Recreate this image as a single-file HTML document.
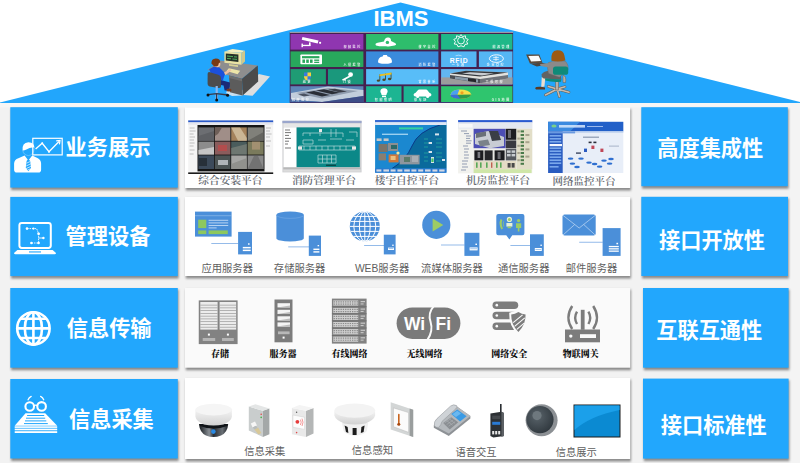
<!DOCTYPE html>
<html lang="zh-CN">
<head>
<meta charset="utf-8">
<title>IBMS</title>
<style>
html,body{margin:0;padding:0;background:#fff;}
body{width:800px;height:463px;overflow:hidden;position:relative;}
svg{display:block;position:absolute;left:0;top:0;}
.t{font-family:"Liberation Sans","Noto Sans CJK SC",sans-serif;font-weight:700;fill:#fff;font-size:21.2px;}
.lb{font-family:"Liberation Sans","Noto Sans CJK SC",sans-serif;font-size:10.3px;fill:#5e5e5e;text-anchor:middle;}
.ls{font-family:"Liberation Serif","Noto Serif CJK SC",serif;font-size:10.7px;fill:#676b72;text-anchor:middle;font-weight:600;}
.lk{font-family:"Liberation Serif","Noto Serif CJK SC",serif;font-size:9px;fill:#111;text-anchor:middle;font-weight:900;}
.tt{font-family:"Liberation Sans","Noto Sans CJK SC",sans-serif;font-size:3px;font-weight:700;fill:#fff;text-anchor:end;letter-spacing:1.6px;opacity:0.85;}
</style>
</head>
<body>
<svg width="800" height="463" viewBox="0 0 800 463">
<defs>
<filter id="sh" x="-5%" y="-5%" width="110%" height="115%"><feGaussianBlur stdDeviation="0.8"/></filter>
</defs>
<!-- background -->
<rect x="0" y="0" width="800" height="463" fill="#ffffff"/>
<rect x="0" y="102" width="800" height="361" fill="#f2f2f2"/>
<rect x="0" y="103" width="800" height="4.4" fill="#f7f6f5"/>
<rect x="790" y="103" width="10" height="360" fill="#f4f4f4"/>
<!-- roof -->
<polygon points="0,102.5 400.5,2.5 800,102 800,103 0,103" fill="#22a6fc"/>
<!-- SECTION:roof-content -->
<!-- tile panel -->
<g id="tiles">
<rect x="289.7" y="32" width="223.4" height="70.8" fill="#45204f"/>
<rect x="289.7" y="31.8" width="223.4" height="1.2" fill="#9a9aa8"/>
<rect x="290.5" y="34" width="72.9" height="15.6" fill="#8f36b0"/>
<rect x="290.5" y="51.4" width="72.9" height="15.6" fill="#28a85c"/>
<rect x="290.5" y="69.1" width="35.4" height="15.3" fill="#1f9c74"/>
<rect x="328" y="69.1" width="35.4" height="15.3" fill="#1a987c"/>
<rect x="290.5" y="86.2" width="72.9" height="15.8" fill="#5d86b8"/>
<rect x="366.1" y="34" width="72.3" height="15.6" fill="#2ebd6c"/>
<rect x="366.1" y="51.4" width="72.3" height="15.6" fill="#3a8bdc"/>
<rect x="366.1" y="69.1" width="72.3" height="15.3" fill="#58bdf8"/>
<rect x="366.1" y="86.2" width="35.4" height="15.8" fill="#1cb592"/>
<rect x="403.6" y="86.2" width="34.8" height="15.8" fill="#1cb592"/>
<rect x="441.1" y="34" width="71.4" height="15.6" fill="#1fb888"/>
<rect x="441.1" y="51.4" width="35.4" height="15.6" fill="#55b6f4"/>
<rect x="478.9" y="51.4" width="33.6" height="15.6" fill="#55b6f4"/>
<rect x="441.1" y="69.1" width="71.4" height="15.3" fill="#62b6f0"/>
<rect x="441.1" y="86.2" width="71.4" height="15.8" fill="#2fc56e"/>
<!-- machine room image tile -->
<g>
<polygon points="291,93 328,86.6 363.4,90 363.4,96 322,102 291,99.4" fill="#c2cedc"/>
<polygon points="296,93 329,88 358,91 322,98.6" fill="#8f9cae"/>
<polygon points="306,92.4 314,91 330,95 322,96.6" fill="#2a2e36"/>
<polygon points="316,90.4 324,89.2 340,92.8 332,94.2" fill="#2a2e36"/>
<polygon points="328,89.6 335,88.8 347,91.4 340,92.4" fill="#3a3e48"/>
<polygon points="298,94.6 304,93.6 310,95.4 304,96.6" fill="#4a5260"/>
<polygon points="322,102 363.4,96 363.4,102" fill="#3c4c86"/>
<polygon points="290.5,99.4 322,102 290.5,102" fill="#4a6ea8"/>
</g>
<!-- building image tile -->
<g>
<rect x="441.1" y="77.4" width="71.4" height="7" fill="#9c9c9c"/>
<polygon points="450,73.4 466,70.8 508,72.6 508,78.4 480,83.2 450,78.6" fill="#e2e2de"/>
<polygon points="450,75 480,79 480,83.2 450,78.6" fill="#4a4e54"/>
<polygon points="480,79 508,75 508,78.4 480,83.2" fill="#6e7278"/>
<polygon points="450,73.4 466,70.8 508,72.6 480,76.6" fill="#34383c"/>
<polygon points="462,73.4 470,72.2 494,73.6 482,75.4" fill="#c8ccd0"/>
<polygon points="455,76.4 478,79.6 478,82.4 455,79" fill="#8a9aa8"/>
<polygon points="468,78 476,79.2 476,82.2 468,81" fill="#24262a"/>
</g>
<!-- tile icons -->
<g fill="#fff" stroke="none">
<!-- camera -->
<g transform="translate(-7.5,0.4)"><polygon points="310,36.6 326,40 325.2,43 309.2,39.4"/>
<rect x="316.5" y="42" width="1.6" height="3.2"/><rect x="309.6" y="44.4" width="8.4" height="1.3"/><rect x="309" y="43.2" width="1.4" height="3.6"/>
<circle cx="327.6" cy="42.4" r="1.1"/></g>
<!-- keypad -->
<g transform="translate(-7.6,-0.3)"><rect x="308" y="54.8" width="21.6" height="9.8" rx="0.8"/>
<g fill="#28a85c"><rect x="309.6" y="56.4" width="17.4" height="2.2"/><rect x="310" y="59.8" width="2.6" height="3.4"/><rect x="313.8" y="59.8" width="2.6" height="3.4"/><rect x="317.6" y="59.8" width="2.6" height="3.4"/><rect x="321.8" y="59.8" width="5" height="1.4"/><rect x="321.8" y="62" width="5" height="1.3"/></g></g>
<!-- shield -->
<path d="M304,72.5 L311,72.5 L311,76.5 Q311,79.5 307.5,80.8 Q304,79.5 304,76.5 Z" fill="#3a7be0"/>
<path d="M307.5,72.5 L311,72.5 L311,76.3 L307.5,76.3 Z M304,76.3 L307.5,76.3 L307.5,80.8 Q304,79.5 304,76.3Z" fill="#f5d23a"/>
<!-- key -->
<circle cx="350.6" cy="74.6" r="2.4"/><polygon points="349.4,75.6 342,79.4 342.6,80.6 344.2,80 344.8,80.8 346,80.2 345.6,79.4 350.2,77"/>
<!-- cloud/recycle -->
<path d="M376,45.4 Q374.4,43.6 377.6,42.8 L384,41.4 Q385,37.2 388.4,37.6 Q391.2,38 391,41 L395,43 Q397.4,44.6 394.6,45.6 Q390,46.8 386,46.2 Q380,46.6 376,45.4 Z"/>
<circle cx="387.4" cy="42.4" r="1.7" fill="#2ebd6c"/>
<!-- dome lamp -->
<path d="M378,62 Q378,57 382.6,56.4 L383.4,55 L386.8,55 L387.6,56.4 Q392,57 392,62 Q392,63.8 385,63.8 Q378,63.8 378,62 Z"/>
<!-- car -->
<g transform="translate(0,1.2)"><path d="M415,95.2 Q413.4,95 413.6,93.4 Q413.8,92 415.6,91.6 L417.6,89.2 Q418.2,88.4 419.4,88.4 L426,88.4 Q427,88.4 427.6,89.2 L429.4,91.6 Q431.2,92 431.4,93.4 Q431.6,95 430,95.2 Z"/>
<circle cx="417.6" cy="95.4" r="1.5"/><circle cx="427.6" cy="95.4" r="1.5"/></g>
<!-- bulb -->
<path d="M380.4,92 Q380,88.4 384,88.2 Q388,88.4 387.6,92 Q386.6,93.6 386.4,95 L381.6,95 Q381.4,93.6 380.4,92 Z"/><rect x="382" y="95.6" width="4" height="1.6"/>
</g>
<!-- music -->
<g fill="#4a4a2a"><rect x="379.4" y="74.4" width="0.9" height="6"/><rect x="385" y="73.6" width="0.9" height="6"/><rect x="390.6" y="72.8" width="0.9" height="6"/><ellipse cx="378.4" cy="80.6" rx="1.7" ry="1.2"/><ellipse cx="384" cy="79.8" rx="1.7" ry="1.2"/><ellipse cx="389.6" cy="79" rx="1.7" ry="1.2"/></g>
<polygon points="379.4,74.4 391.5,72.6 391.5,74.4 379.4,76.2" fill="#e8c020"/>
<!-- sun/bulb energy -->
<g fill="none" stroke="#fff" stroke-width="0.9"><circle cx="461" cy="40.6" r="3.4"/><path d="M461,34.6 L462.6,36.6 L465.4,35.8 L465.6,38.4 L468.2,39.4 L466.6,41.6 L467.8,44 L465,44.4 L464,46.8 L461,45.8 L458,46.8 L457,44.4 L454.2,44 L455.4,41.6 L453.8,39.4 L456.4,38.4 L456.6,35.8 L459.4,36.6 Z"/></g>
<!-- RFID -->
<text x="459" y="62.6" text-anchor="middle" style="font-family:'Liberation Sans',sans-serif;font-weight:700;font-size:6.8px;fill:#fff;letter-spacing:0.7px;">RFID</text>
<path d="M455.6,55.8 Q458.6,54.6 461.6,55.8" fill="none" stroke="#fff" stroke-width="0.5"/>
<!-- circle icon -->
<g fill="none" stroke="#fff" stroke-width="0.9"><ellipse cx="496.4" cy="58.6" rx="7" ry="3.8"/><path d="M493.2,57.4 H498.8 M493.2,59.4 H498.8 M496,56 V61" stroke-width="0.7"/></g>
<!-- pie chart -->
<g transform="translate(-0.6,1.4)">
<path d="M451,93.6 Q452,88.4 460,88 Q470,88 472,93 Q470,97.4 461,97.4 Q452,97.4 451,93.6 Z" fill="#f4e04a"/>
<path d="M451,93.6 Q452,88.4 460,88 L458,93.4 Z" fill="#4aa0f0"/>
<path d="M451,93.6 L458,93.4 L472,93 Q470,97.4 461,97.4 Q452,97.4 451,93.6 Z" fill="#2e9a4a"/>
<path d="M451,93.6 L458,93.4 L461,97.4 Q452,97.4 451,93.6Z" fill="#3a6ed8"/>
<circle cx="462.6" cy="91.4" r="1.6" fill="#f0a020"/>
</g>
<!-- tile texts -->
<g class="tt">
<text x="361.8" y="48.4">视频监控</text>
<text x="361.8" y="65.8">入侵报警</text>
<text x="307.4" y="83.2" style="text-anchor:middle">巡更</text>
<text x="347.4" y="83.2" style="text-anchor:middle">门锁</text>
<text x="292" y="100.8" style="text-anchor:start">机房监控</text>
<text x="436.8" y="48.4">楼宇自控</text>
<text x="436.8" y="65.8">消防报警</text>
<text x="436.8" y="83.2">背景音乐</text>
<text x="384" y="100.8" style="text-anchor:middle">智能照明</text>
<text x="421" y="100.8" style="text-anchor:middle">停车场</text>
<text x="510.8" y="48.4">能源管理</text>
<text x="458.6" y="65.8" style="text-anchor:middle">一卡通</text>
<text x="496" y="65.8" style="text-anchor:middle">企业管控</text>
<text x="504" y="83.2">三维可视</text>
<text x="510.8" y="100.8">GIS地图</text>
</g>
</g>
<!-- operator (left) -->
<g id="operator">
<polygon points="258.8,74 270,76.5 252.6,95.8 243.2,95" fill="#dedede"/>
<polygon points="229,87 243,90 243,95.6 232,96 226,93" fill="#c9dff0"/>
<polygon points="220.7,60.6 257.8,65.4 242,78.8 207.5,70" fill="#8e8e8e"/>
<polygon points="257.8,65.4 258.2,81.6 242.6,95.4 242,78.8" fill="#4b4b4b"/>
<polygon points="242,78.8 242.6,95.4 230,92.2 229,75.6" fill="#5c5c5c"/>
<polygon points="229,75.6 242,78.8 242,81.2 229,78" fill="#6e6e6e"/>
<!-- monitor -->
<polygon points="224.4,51.4 232.5,49 245,50.8 241.4,52.8" fill="#f5f0c0"/>
<polygon points="241.4,52.8 245,50.8 245,61.6 241.4,64.8" fill="#cfc88c"/>
<polygon points="224.4,51.4 241.4,52.8 241.4,64.8 224.4,62.8" fill="#e9e2a4"/>
<polygon points="225.8,53.6 238.4,54.6 238.4,62 225.8,60.6" fill="#25322a"/>
<path d="M227,56 L233,56.6 M234,56.8 L237,57 M227,58.4 L231,58.8 M232.4,59 L237,59.4" stroke="#5ad06a" stroke-width="0.8" fill="none"/>
<polygon points="229,64 238,65.2 238,67 229,65.8" fill="#d8d194"/>
<!-- keyboard -->
<polygon points="228.8,68.2 240.2,70.8 237.6,74.2 226.6,71" fill="#ece5a8"/>
<!-- legs -->
<polygon points="219,79.6 230,82.6 229.6,90.4 224.6,90.4 223.6,85.6 218,84.6" fill="#1b2a78"/>
<ellipse cx="229" cy="90" rx="2.6" ry="1.6" fill="#7a3a1a"/>
<!-- body -->
<polygon points="209.2,69.2 214,66.6 219.4,67.4 225.2,73.2 222.8,80.6 212.4,77" fill="#1c50da"/>
<polygon points="224,72.6 230.4,69 231.4,70.4 225.4,75" fill="#f0c0a0"/>
<circle cx="217.2" cy="64" r="3.2" fill="#f0c0a0"/>
<path d="M211.4,63.4 Q211.2,58.6 215.8,58.4 Q220.4,58.4 220.2,62.6 Q218.6,62.4 218.2,65.6 Q215,68.4 211.4,63.4 Z" fill="#7a3a14"/>
<!-- chair back -->
<path d="M207.6,74 Q207.6,71.6 210,72.2 L219,75 Q221,75.8 221,78 L221,86 Q221,88.4 218.6,88 L209.6,86.4 Q207.6,86 207.6,84 Z" fill="#4c4c4c"/>
<!-- chair base -->
<rect x="215.6" y="86" width="2.2" height="14" fill="#8ab8f0"/>
<path d="M208,94.6 L216.6,93.6 L227.6,95" stroke="#3a3a4a" stroke-width="1.4" fill="none"/>
<path d="M216.6,93.6 L216.6,100" stroke="#3a3a4a" stroke-width="1.2" fill="none"/>
<circle cx="208" cy="95" r="1.5" fill="#111"/><circle cx="227.6" cy="95.2" r="1.5" fill="#111"/><circle cx="216.7" cy="100" r="1.5" fill="#111"/>
</g>
<!-- woman (right) -->
<g id="woman">
<!-- chair base -->
<g stroke="#6a5a4a" stroke-width="2.6" stroke-linecap="round" fill="none"><path d="M557.2,89 L545.4,95 M557.2,89 L559.4,96.6 M557.2,89 L569,92.2 M557.2,89 L548.4,86.4 M557.2,89 L565,86.8"/></g>
<g stroke="#c4bcb2" stroke-width="1.6" stroke-linecap="round" fill="none"><path d="M557.2,89 L545.4,95 M557.2,89 L559.4,96.6 M557.2,89 L569,92.2 M557.2,89 L548.4,86.4 M557.2,89 L565,86.8"/></g>
<rect x="555.6" y="80" width="3" height="10" fill="#b8b0a6" stroke="#6a5a4a" stroke-width="0.5"/>
<path d="M563,75 Q566.6,76 565.6,82.6 L563,82.6 Z" fill="#b8b0a6" stroke="#6a5a4a" stroke-width="0.5"/>
<!-- laptop -->
<polygon points="529.9,63.4 542.4,62.8 548,64.6 536.8,66.6" fill="#4a4440"/>
<polygon points="526.1,54.6 539.3,54.4 542.4,62.8 529.9,63.4" fill="#5a4a3c"/>
<polygon points="528.4,55.9 538.6,55.7 541,60.9 531.1,61.5" fill="#fafafa"/>
<!-- leg & shoe -->
<polygon points="541.8,77 545.4,77.6 544.4,86.6 541.2,87" fill="#ecdccc"/>
<path d="M535,88 Q536,86.4 541,86.8 L545,87.4 L545,89.4 L536,89.6 Z" fill="#5a3a24"/>
<!-- skirt -->
<path d="M541.6,74.6 Q543,71.6 549,70.6 L560.6,72.6 L561.4,79.8 L543.6,78.4 Q541,77 541.6,74.6 Z" fill="#626262"/>
<!-- seat -->
<path d="M545,78.4 L561.4,79.4 L561,81.8 Q552,82.6 545.4,80.6 Z" fill="#0f8a78"/>
<!-- torso -->
<path d="M548.4,62.6 Q556,59.4 565.8,61.6 Q569,65 568,70 L559.4,77.2 L548.6,73.4 Q546.6,68 548.4,62.6 Z" fill="#8a8a8a" stroke="#6a6a6a" stroke-width="0.4"/>
<polygon points="549.4,63 540,64 540.6,66 549,67.4" fill="#8c8c8c"/>
<!-- chair back -->
<rect x="553" y="66.4" width="15.2" height="8.4" rx="2.6" fill="#0f8a78"/>
<!-- hair -->
<path d="M551.4,60.8 Q550.4,50.6 557,50.2 Q563.6,50 564.4,55.4 L565.4,60.6 Q558,62.4 551.4,60.8 Z" fill="#9c5a14"/>
</g>

<text x="401" y="26" text-anchor="middle" style="font-family:'Liberation Sans',sans-serif;font-weight:700;font-size:22px;fill:#fff;">IBMS</text>
<!-- shadows -->
<g fill="#808080" filter="url(#sh)" opacity="0.9">
<rect x="11.1" y="108.8" width="167.5" height="81.3"/><rect x="11.1" y="198.5" width="167.5" height="80.1"/><rect x="11.1" y="289.6" width="167.5" height="80.6"/><rect x="11.1" y="380.6" width="167.5" height="80.4"/>
<rect x="185.8" y="109.0" width="445.2" height="81.5"/><rect x="185.8" y="198.6" width="445.2" height="79.9"/><rect x="185.8" y="289.6" width="445.2" height="80.6"/><rect x="185.8" y="379.6" width="445.2" height="81.9"/>
<rect x="642.1" y="108.8" width="146.5" height="79.9"/><rect x="642.1" y="198.4" width="146.7" height="80.1"/><rect x="643.8" y="289.6" width="145.6" height="80.6"/><rect x="643.8" y="380.2" width="145.6" height="80.9"/>
</g>
<!-- left boxes -->
<g fill="#22a7fd">
<rect x="10.3" y="107.2" width="167.5" height="80.4"/>
<rect x="10.3" y="196.9" width="167.5" height="79.2"/>
<rect x="10.3" y="288" width="167.5" height="79.7"/>
<rect x="10.3" y="379" width="167.5" height="79.5"/>
<rect x="641.3" y="107.2" width="146.5" height="79"/>
<rect x="641.3" y="196.8" width="146.7" height="79.2"/>
<rect x="643" y="288" width="145.6" height="79.7"/>
<rect x="643" y="378.6" width="145.6" height="80"/>
</g>
<!-- panels -->
<g fill="#ffffff">
<rect x="185" y="107.4" width="445.2" height="80.6"/>
<rect x="185" y="197" width="445.2" height="79"/>
<rect x="185" y="288" width="445.2" height="79.7" fill="#fafafa"/>
<rect x="185" y="378" width="445.2" height="81"/>
</g>
<!-- left titles -->
<text class="t" x="65.6" y="155.4">业务展示</text>
<text class="t" x="65.6" y="243.6">管理设备</text>
<text class="t" x="66.8" y="335.6">信息传输</text>
<text class="t" x="69" y="427.4">信息采集</text>
<!-- right titles -->
<text class="t" x="657.3" y="155.7">高度集成性</text>
<text class="t" x="659" y="248">接口开放性</text>
<text class="t" x="656.3" y="338">互联互通性</text>
<text class="t" x="660.8" y="433">接口标准性</text>
<!-- SECTION:left-icons -->
<!-- icon 1: presenter -->
<g id="ic1">
<g transform="translate(0.4,0.7)"><rect x="32.4" y="137.6" width="29.4" height="16.6" fill="none" stroke="#fff" stroke-width="1.2"/>
<path d="M35.2,148.4 L41.8,142.6 L48.6,151 L58.6,140.8" fill="none" stroke="#fff" stroke-width="1.3"/>
<path d="M55.8,140.2 L59.6,139.8 L59,143.6" fill="none" stroke="#fff" stroke-width="1.2"/>
<circle cx="41.8" cy="142.6" r="1" fill="#fff"/><circle cx="48.6" cy="151" r="1" fill="#fff"/></g>
<path d="M22.6,150.4 Q21.8,142.6 28.4,142.2 Q35,142.4 34.4,149 L33.8,147.2 Q29,147.4 26.4,149.4 Q24,150.6 22.6,150.4 Z" fill="#fff"/>
<path d="M22.8,150.6 Q23.4,155 28.4,155.6 Q33.4,155 34.2,149" fill="none" stroke="#fff" stroke-width="0.5" opacity="0.55"/>
<path d="M14.1,169.8 L14.1,163.4 Q14.3,159.6 18.4,158.2 L24.6,155.6 L28.4,160.4 L32.2,155.6 L37.4,158 Q41,159.6 41.1,163.4 L41.1,169.8 Q41.1,172.6 38.3,172.6 L16.9,172.6 Q14.1,172.6 14.1,169.8 Z" fill="#fff"/>
<path d="M28.4,158.8 L30.2,161 L31,168 L28.4,171.2 L25.8,168 L26.6,161 Z" fill="#22a7fd"/>
<path d="M26.6,163.2 L30.4,161.4 M26.2,166 L30.8,163.8 M26,168.6 L30.9,166.4 M27.4,170.2 L30.4,168.8" stroke="#fff" stroke-width="0.7" fill="none"/>
</g>
<!-- icon 2: laptop -->
<g id="ic2">
<rect x="19.4" y="222.9" width="31.4" height="25" rx="2.4" fill="none" stroke="#fff" stroke-width="2"/>
<path d="M17.4,250 L52.6,250 L56,253 Q56,254.2 54.6,254.2 L15.4,254.2 Q14,254.2 14,253 Z" fill="#fff"/>
<rect x="29" y="251.4" width="12" height="1.1" fill="#22a6fc"/>
<g stroke="#fff" stroke-width="0.9" fill="none" stroke-dasharray="1.6,0.9"><path d="M27,228.6 L36.6,228.6 L38.6,233.6 L38.6,243 L31.6,243"/></g>
<g fill="#fff"><circle cx="27" cy="228.6" r="1.3"/><circle cx="33.4" cy="228.6" r="1.1"/><circle cx="38.6" cy="233.8" r="1.4"/><circle cx="43.4" cy="238" r="1.2"/><circle cx="38.6" cy="243" r="1.3"/><circle cx="31.4" cy="243" r="1.3"/></g>
<path d="M38.6,238 H43.4" stroke="#fff" stroke-width="0.9"/>
</g>
<!-- icon 3: globe -->
<g id="ic3" fill="none" stroke="#fff" stroke-width="2.6">
<circle cx="33.4" cy="328.4" r="16.2"/>
<ellipse cx="33.4" cy="328.4" rx="8.6" ry="16.2"/>
<path d="M33.4,312.2 V344.6 M17.2,328.4 H49.6 M20.6,318.8 H46.2 M20.6,338 H46.2"/>
</g>
<!-- icon 4: glasses on books -->
<g id="ic4">
<g fill="none" stroke="#fff" stroke-width="2.1"><circle cx="29.7" cy="406.5" r="4.3"/><circle cx="41.6" cy="406.4" r="4.3"/></g>
<path d="M34,405.6 Q35.6,404.6 37.3,405.6" fill="none" stroke="#fff" stroke-width="1.4"/>
<g fill="none" stroke="#fff" stroke-width="1.3" stroke-linecap="round"><path d="M28.1,399.8 Q29,397.4 31.2,396.4 M43.7,399.8 Q42.8,397.4 40.6,396.4"/></g>
<polygon points="25.5,413.3 45.2,413.3 57.2,425.8 14.7,425.8" fill="#fff"/>
<g stroke="#22a7fd" stroke-width="1"><path d="M27.1,415.5 H44.2 M26,418.2 H45.2 M25,420.9 H46.3 M24,423.6 H47.8"/></g>
<g fill="#fff"><rect x="14.7" y="426.3" width="42.5" height="1.6"/><rect x="14.7" y="428.6" width="42.5" height="1.7"/><rect x="14.7" y="431.2" width="42.5" height="1.8"/></g>
</g>

<!-- SECTION:row1 -->
<!-- screenshot 1: video wall -->
<g id="s1">
<rect x="188.2" y="120.4" width="85" height="53.6" fill="#f4f4f4"/>
<rect x="188.2" y="120.4" width="85" height="2" fill="#2a5ac8"/>
<rect x="188.2" y="122.4" width="85" height="2.3" fill="#e4e6ee"/>
<rect x="188.2" y="172.4" width="85" height="1.6" fill="#1a1a1a"/>
<rect x="197.5" y="125" width="67" height="46.4" fill="#141414"/>
<g stroke="#9a9a9a" stroke-width="0.6"><path d="M189.6,128 h5 M189.6,131 h6 M189.6,134 h4 M189.6,137 h5.4 M189.6,140 h4.4 M189.6,143 h5 M189.6,146 h4 M189.6,150 h5 M189.6,154 h4 M266,128 h5 M266,131 h4 M266,134 h5.6 M266,137 h4 M266,141 h5 M266,146 h4"/></g>
<rect x="198.4" y="127.4" width="15.6" height="13.4" fill="#6c6e72"/><rect x="214.8" y="127.4" width="15.6" height="13.4" fill="#a08e88"/><rect x="231.2" y="127.4" width="15.6" height="13.4" fill="#a4825c"/><rect x="247.6" y="127.4" width="16" height="13.4" fill="#80807a"/>
<rect x="198.4" y="141.6" width="15.6" height="13" fill="#8c8c8c"/><rect x="214.8" y="141.6" width="15.6" height="13" fill="#8a5c5c"/><rect x="231.2" y="141.6" width="15.6" height="13" fill="#4a5c5c"/><rect x="247.6" y="141.6" width="16" height="13" fill="#7a7a5c"/>
<rect x="198.4" y="155.4" width="15.6" height="13.6" fill="#3c4a5a"/><rect x="214.8" y="155.4" width="15.6" height="13.6" fill="#4c5454"/><rect x="231.2" y="155.4" width="15.6" height="13.6" fill="#a6a6a4"/><rect x="247.6" y="155.4" width="16" height="13.6" fill="#8a8a8a"/>
<g opacity="0.75"><polygon points="198.4,136 214,131 214,140.8 198.4,140.8" fill="#5a5c60"/><polygon points="214.8,127.4 222,127.4 218,134 214.8,136" fill="#5e5048"/><polygon points="231.2,127.4 240,127.4 246.8,138 246.8,140.8 238,140.8" fill="#d8c8a8"/><polygon points="247.6,140.8 263.6,132 263.6,140.8" fill="#5c5c58"/>
<rect x="218" y="145" width="9" height="6" fill="#c04848"/><polygon points="231.2,148 246.8,144 246.8,154.6 231.2,154.6" fill="#7a8078"/><rect x="252" y="141.6" width="8" height="8" fill="#b09878"/><polygon points="198.4,150 214,147 214,154.6 198.4,154.6" fill="#d8d8d8"/>
<rect x="199" y="158" width="8" height="8" fill="#20282e"/><rect x="218" y="160" width="10" height="5" fill="#d0d4d8"/><polygon points="231.2,164 246.8,158 246.8,169 231.2,169" fill="#8a8a86"/><polygon points="247.6,169 254,156 258,156 263.6,169" fill="#6a6a6a"/></g>
</g>
<text class="ls" x="230.4" y="184">综合安装平台</text>
<!-- screenshot 2: fire -->
<g id="s2">
<rect x="282.4" y="120.8" width="79.2" height="51.6" fill="#cfd0d2"/>
<rect x="282.4" y="120.8" width="79.2" height="2.4" fill="#9aa6cc"/>
<rect x="283.4" y="123.4" width="77" height="3.8" fill="#e6e6e6"/>
<rect x="283.6" y="127.4" width="13" height="39.6" fill="#ffffff"/>
<rect x="296.6" y="127.4" width="63.2" height="39.8" fill="#0b8888"/>
<g stroke="#3a3a3a" stroke-width="0.7"><path d="M285,130 h5 M285,132.6 h6 M285,135.4 h4 M285,138.4 h6 M285,141.2 h4 M285,144 h3 M285,148 h6"/></g>
<g stroke="#b4dada" stroke-width="0.7" fill="none"><path d="M303,133 h40 M303,133 v3 M310,133 v3 M320,130 v6 M331,129 v8 M336,129 v8 M343,133 v4 M349,132 h8 v5 M303,140 h10 v4 h-10 z M318,140 h8 M330,139 h12 M346,140 h8 M299,146 h56 M299,150 h56 M304,146 v4 M310,146 v4 M316,146 v4 M322,146 v4 M328,146 v4 M334,146 v4 M340,146 v4 M346,146 v4 M318,155 h18 v8 h-18 z M318,159 h18 M322.5,155 v8 M327,155 v8 M331.5,155 v8"/></g>
<rect x="298" y="146.4" width="4" height="3.2" fill="#e8e8e8"/><rect x="352" y="146.4" width="4" height="3.2" fill="#e8e8e8"/><rect x="319" y="129" width="3" height="3" fill="#e8e8e8"/>
<rect x="326" y="164.6" width="10" height="1.4" fill="#084848"/>
<rect x="283.4" y="167.6" width="77" height="1.6" fill="#b8b8b8"/><rect x="283.4" y="169.8" width="77" height="1.8" fill="#dcdcdc"/>
</g>
<text class="ls" x="324" y="184">消防管理平台</text>
<!-- screenshot 3: BA -->
<g id="s3">
<rect x="375.1" y="120.1" width="71.3" height="52.6" fill="#1b88d0"/>
<path d="M446.4,125 L446.4,168.6 L392,168.6 Q406,160 412,146 Q418,131 440,125 Z" fill="#0a6a9c"/>
<path d="M392,168.6 Q406,160 412,146 Q418,131 440,125" fill="none" stroke="#0a3a8a" stroke-width="1"/>
<rect x="375.1" y="120.1" width="71.3" height="2" fill="#3a6ad2"/>
<rect x="375.1" y="122.1" width="71.3" height="2.9" fill="#dfe6f4"/>
<rect x="375.1" y="168.4" width="71.3" height="4.3" fill="#2a78d0"/>
<g fill="#d0d8e4"><rect x="376.4" y="169.4" width="5" height="2.2"/><rect x="383.4" y="169.4" width="5.6" height="2.2"/><rect x="390.6" y="169.4" width="5" height="2.2"/><rect x="397.4" y="169.4" width="5" height="2.2"/><rect x="404.2" y="169.4" width="5.6" height="2.2"/><rect x="411.4" y="169.4" width="5" height="2.2"/><rect x="418.2" y="169.4" width="5" height="2.2"/><rect x="425" y="169.4" width="5.6" height="2.2"/><rect x="432.4" y="169.4" width="5" height="2.2"/><rect x="439.2" y="169.4" width="5.4" height="2.2"/></g>
<rect x="399" y="127.4" width="24" height="2" fill="#38d0a0"/>
<rect x="382" y="133.6" width="26" height="1.4" fill="#9ad0f0"/>
<rect x="376.6" y="138.4" width="5" height="2.6" fill="#c8c8c8"/><rect x="383.6" y="138.4" width="5" height="2.6" fill="#c8c8c8"/>
<rect x="378.6" y="144" width="9" height="8" fill="#7a746a"/><rect x="388" y="143" width="10" height="8" fill="#8a8e92"/><rect x="391" y="145" width="6" height="4" fill="#2a6a6a"/>
<rect x="378.6" y="153.4" width="7.4" height="7" fill="#8a7e70"/><rect x="388.6" y="154.4" width="10" height="8" fill="#d0783a"/><rect x="390.6" y="156" width="5" height="4" fill="#e8c080"/>
<rect x="399.6" y="154.8" width="20" height="9.6" fill="#8e969e"/><rect x="404" y="157" width="6" height="5" fill="#5a7a6a"/><rect x="412" y="156" width="6" height="6" fill="#a8aeb4"/>
<circle cx="398" cy="153" r="1.6" fill="#f0e8a0"/>
<g fill="#d8e4ec"><rect x="435" y="133.4" width="4" height="2"/><rect x="428.6" y="142" width="3.4" height="2"/><rect x="428.6" y="151" width="3.4" height="2"/><rect x="431" y="157" width="3" height="6"/><rect x="442" y="159" width="3" height="2"/></g>
<g stroke="#2ab0a0" stroke-width="0.7"><path d="M424,139 h4 M424,143 h4 M424,147 h4 M436,139 h6 M436,143 h6 M436,147 h6 M424,153 h4 M436,153 h6 M424,157 h4 M436,157 h6 M424,161 h4 M436,161 h5"/></g>
<rect x="431.4" y="158.4" width="2.2" height="3.6" fill="#40c060"/>
</g>
<text class="ls" x="406.8" y="184">楼宇自控平台</text>
<!-- screenshot 4: machine room -->
<g id="s4">
<rect x="458.1" y="120.1" width="74.2" height="53.3" fill="#f2f2ee"/>
<rect x="458.1" y="120.1" width="74.2" height="2.3" fill="#2a5ad0"/>
<rect x="458.1" y="122.4" width="74.2" height="6.2" fill="#e4e8f0"/>
<rect x="458.6" y="124" width="14" height="3.6" fill="#f8f8f8"/>
<g stroke="#6a7a9a" stroke-width="0.7"><path d="M461,131 h6 M464,133.6 h5 M466,136 h5 M466,138.4 h4 M466,140.8 h5.6 M466,143.2 h5 M463,146 h5 M464,149 h5 M464,152 h4 M464,155 h5 M464,158 h4.6 M462,161 h6 M462,164 h5 M462,167 h6 M461,170 h5"/></g>
<rect x="473.6" y="128.8" width="32" height="19.4" fill="#4c4eb4"/>
<polygon points="475,134 488,131 504,137 504,146 490,148.2 475,144" fill="#c8ccd4"/>
<polygon points="476,133 486,131.4 486,136 476,138" fill="#6a7078"/><polygon points="489,131 498,131 501,140 492,141" fill="#3a3e46"/><polygon points="478,141 488,139.6 490,145 480,146.4" fill="#7a828a"/>
<rect x="473.6" y="149.8" width="32" height="11" fill="#e8e8e4"/>
<rect x="474.4" y="150.4" width="9" height="10" fill="#1c1c20"/><rect x="484.6" y="150.4" width="8" height="10" fill="#26262a"/><rect x="494.6" y="150.4" width="10" height="10" fill="#1c1c20"/>
<rect x="477.6" y="152" width="2.6" height="6" fill="#7a7a80"/><rect x="497.6" y="152" width="3" height="7" fill="#6a6a70"/>
<rect x="473.6" y="160.8" width="42.6" height="8.4" fill="#e4dcc6"/>
<g fill="#58a858"><rect x="476" y="162.4" width="1.6" height="5.4"/><rect x="480" y="162.4" width="1.6" height="5.4"/><rect x="486" y="162.4" width="1.6" height="5.4"/><rect x="496" y="162.4" width="1.6" height="5.4"/><rect x="500" y="162.4" width="1.6" height="5.4"/></g>
<g fill="#c06050"><rect x="491" y="162.4" width="1.4" height="5.4"/></g>
<rect x="507.6" y="163" width="3" height="4.6" fill="#4a4a4a"/><rect x="511.6" y="163" width="3" height="4.6" fill="#4a4a4a"/>
<rect x="473.6" y="169.2" width="58" height="3.8" fill="#cfe6a8"/>
<rect x="505.8" y="128.8" width="10.6" height="11" fill="#1e1e22"/><rect x="505.8" y="140.4" width="10.6" height="8" fill="#3a3a40"/><rect x="505.8" y="149" width="10.6" height="11.4" fill="#55585e"/>
<rect x="508" y="130" width="3" height="8" fill="#6a6a70"/><g fill="#c8ccd0"><rect x="507" y="150.4" width="3.6" height="2.4"/><rect x="511.6" y="150.4" width="3.6" height="2.4"/><rect x="507" y="154" width="3.6" height="2.4"/><rect x="511.6" y="154" width="3.6" height="2.4"/></g>
<rect x="516.6" y="128.8" width="15.6" height="40.4" fill="#e2dec8"/>
<g fill="#4a7a4a"><rect x="520.6" y="130.4" width="3.4" height="2"/><rect x="520.6" y="134" width="3.4" height="2"/><rect x="520.6" y="137.6" width="3.4" height="2"/><rect x="520.6" y="141.2" width="3.4" height="2"/><rect x="520.6" y="144.8" width="3.4" height="2"/><rect x="520.6" y="148.4" width="3.4" height="2"/><rect x="520.6" y="152" width="3.4" height="2"/><rect x="520.6" y="155.6" width="3.4" height="2"/><rect x="520.6" y="159.2" width="3.4" height="2"/><rect x="520.6" y="162.8" width="3.4" height="2"/></g>
<g fill="#a8a48e"><rect x="517.4" y="130.4" width="2.4" height="2"/><rect x="517.4" y="137.6" width="2.4" height="2"/><rect x="517.4" y="144.8" width="2.4" height="2"/><rect x="517.4" y="152" width="2.4" height="2"/><rect x="517.4" y="159.2" width="2.4" height="2"/><rect x="525.4" y="134" width="4" height="2"/><rect x="525.4" y="141.2" width="4" height="2"/><rect x="525.4" y="148.4" width="4" height="2"/><rect x="525.4" y="155.6" width="4" height="2"/></g>
</g>
<text class="ls" x="498" y="184">机房监控平台</text>
<!-- screenshot 5: network -->
<g id="s5">
<rect x="548.1" y="121.8" width="75.2" height="51.2" fill="#e8eef8"/>
<rect x="548.1" y="121.8" width="75.2" height="9.6" fill="#2260c8"/>
<polygon points="548.1,121.8 580,121.8 570,131.4 548.1,131.4" fill="#3a8ae0"/>
<rect x="559" y="125" width="26" height="2.6" fill="#d8e8fc" opacity="0.85"/><rect x="587" y="126" width="16" height="1" fill="#9ab8ec"/>
<ellipse cx="554" cy="126" rx="2.6" ry="1.6" fill="#7ad08a"/>
<rect x="548.1" y="131.4" width="14.6" height="41.6" fill="#2a5cc0"/>
<rect x="562.7" y="131.4" width="60.6" height="1.6" fill="#c8d8f0"/>
<rect x="548.1" y="131.4" width="27" height="2" fill="#6a9ae0"/>
<g fill="#7aa8ec"><rect x="549.6" y="135" width="11.6" height="1.6"/><rect x="549.6" y="138" width="11.6" height="1.6"/><rect x="549.6" y="141" width="11.6" height="1.6"/><rect x="549.6" y="147.4" width="11.6" height="1.6"/><rect x="549.6" y="150.4" width="11.6" height="1.6"/><rect x="549.6" y="153.4" width="11.6" height="1.6"/><rect x="549.6" y="156.4" width="11.6" height="1.6"/><rect x="549.6" y="159.4" width="11.6" height="1.6"/><rect x="549.6" y="162.4" width="11.6" height="1.6"/><rect x="549.6" y="166" width="9" height="1.6"/></g>
<rect x="549.6" y="144" width="12.4" height="2.2" fill="#f4f8ff"/>
<rect x="583" y="136.6" width="16" height="1.2" fill="#8a98b0"/><rect x="609" y="145.6" width="10" height="1" fill="#a8b4c8"/>
<rect x="588.6" y="141.6" width="3" height="1.6" fill="#2a2e3a"/><rect x="593.4" y="141.6" width="3" height="1.6" fill="#2a2e3a"/>
<rect x="591.4" y="145.6" width="3" height="3.4" fill="#c04858"/><rect x="600.4" y="148.6" width="3" height="3.4" fill="#c04858"/><rect x="584" y="148.6" width="3" height="3.4" fill="#2a5ac0"/>
<rect x="576" y="152.4" width="5" height="1.4" fill="#3a4660"/>
<g fill="#2f6fd0"><ellipse cx="570.6" cy="158.6" rx="2.8" ry="1.2"/><ellipse cx="581" cy="158.6" rx="2.8" ry="1.2"/><ellipse cx="572.4" cy="163.6" rx="2.8" ry="1.2"/><ellipse cx="577" cy="167" rx="2.8" ry="1.2"/><ellipse cx="589" cy="162.6" rx="2.8" ry="1.2"/><ellipse cx="594.6" cy="164" rx="2.8" ry="1.2"/><ellipse cx="599.6" cy="166.6" rx="2.8" ry="1.2"/><ellipse cx="604" cy="160.6" rx="2.8" ry="1.2"/><ellipse cx="611" cy="159" rx="2.8" ry="1.2"/><ellipse cx="609.6" cy="163.6" rx="2.8" ry="1.2"/></g>
</g>
<text class="ls" x="584" y="185.4" style="font-size:10.5px">网络监控平台</text>

<!-- SECTION:row2 -->
<g id="r2" fill="#4b8fd9">
<!-- app server -->
<rect x="195" y="211.6" width="36.6" height="25"/>
<rect x="195" y="215.6" width="36.6" height="0.5" fill="#a9cbf0"/>
<rect x="198.2" y="219.7" width="8.1" height="8.4" fill="#8dc85e"/>
<g fill="#b7d3f2"><rect x="208.6" y="219.8" width="19.6" height="1"/><rect x="208.6" y="222.4" width="19.6" height="1"/><rect x="208.6" y="225" width="19.6" height="1"/><rect x="208.6" y="227.4" width="8" height="1"/></g>
<rect x="198.2" y="230.4" width="8.1" height="3.7" fill="#8dc85e"/><rect x="208.6" y="230.4" width="19.2" height="3.7" fill="#8dc85e"/>
<rect x="211.3" y="243.1" width="27" height="0.8" fill="#7aaae4"/>
<rect x="238.1" y="231.9" width="13.9" height="22.5"/>
<rect x="248" y="243.3" width="1.6" height="1.4" fill="#fff"/><rect x="242.8" y="246.9" width="7.9" height="1.5" fill="#fff"/><rect x="242.8" y="249.6" width="7.9" height="1.5" fill="#fff"/>
<!-- storage -->
<path d="M276.4,215 L276.4,238.2 A13.7,3.4 0 0 0 303.8,238.2 L303.8,215 Z"/>
<ellipse cx="290.1" cy="215" rx="13.7" ry="3.4"/>
<path d="M276.4,215 A13.7,3.4 0 0 0 303.8,215" fill="none" stroke="#7fb0e8" stroke-width="0.5"/>
<rect x="288.2" y="246.5" width="21" height="0.8" fill="#7aaae4"/>
<rect x="308.8" y="235.6" width="12.2" height="20.3"/>
<rect x="317.6" y="245" width="1.5" height="1.3" fill="#fff"/><rect x="313.4" y="248.6" width="6" height="1.4" fill="#fff"/><rect x="313.4" y="251.2" width="6" height="1.4" fill="#fff"/>
<!-- web globe -->
<circle cx="364.8" cy="226.4" r="15"/>
<g fill="none" stroke="#fff" stroke-width="1"><ellipse cx="364.8" cy="226.4" rx="5.4" ry="15"/><ellipse cx="364.8" cy="226.4" rx="11" ry="15"/><path d="M364.8,211.4 V241.4 M349.8,226.4 H379.8 M350.8,221.4 H378.8 M350.8,231.4 H378.8 M353.6,216.4 H376 M353.6,236.4 H376"/></g>
<rect x="364.1" y="245.2" width="20" height="0.8" fill="#7aaae4"/>
<rect x="383.8" y="234.7" width="11.8" height="19.7"/>
<rect x="392.2" y="244.6" width="1.5" height="1.3" fill="#fff"/><rect x="388" y="247.6" width="6" height="2.4" fill="#fff"/><rect x="388.6" y="248.4" width="4.8" height="0.5" fill="#4b8fd9"/>
<!-- streaming -->
<circle cx="436.3" cy="224.9" r="14.1"/>
<polygon points="432.6,218.4 432.6,231.5 443.3,224.9" fill="#9ccc65"/>
<rect x="441" y="244.6" width="23.6" height="0.8" fill="#7aaae4"/>
<rect x="464.4" y="232.8" width="15" height="23.1"/>
<rect x="475.4" y="243.6" width="1.6" height="1.4" fill="#fff"/><rect x="469.6" y="247.4" width="8" height="3" fill="#fff"/><rect x="470.2" y="248.6" width="6.8" height="0.5" fill="#4b8fd9"/>
<!-- comm -->
<path d="M498.3,214.1 H522.4 Q524.4,214.1 524.4,216.1 V233.25 Q524.4,235.25 522.4,235.25 H512.25 L509.4,239.4 L506.25,235.25 H498.3 Q496.3,235.25 496.3,233.25 V216.1 Q496.3,214.1 498.3,214.1 Z"/>
<path d="M500.6,219 Q498.2,224 501.4,229.4 L503,228.4 Q500.8,224 502.4,220 Z" fill="#9ccc65"/>
<path d="M503.6,221.4 Q502.8,224 503.8,226.6" fill="none" stroke="#9ccc65" stroke-width="0.7"/>
<circle cx="509.4" cy="219.4" r="2.6" fill="#e8f0d8"/><circle cx="509.4" cy="219.6" r="1.5" fill="#9ccc65"/>
<path d="M506.4,223 H512.4 V226.6 H506.4 Z" fill="#e8f0d8"/><rect x="507.6" y="226.6" width="3.6" height="1.6" fill="#9ccc65"/>
<circle cx="518.6" cy="220.6" r="1.7" fill="#9ccc65"/><path d="M516,223.2 H521.2 V228 H519.4 V231.4 H517.8 V228 H516 Z" fill="#9ccc65"/>
<rect x="510.4" y="245.2" width="20" height="0.8" fill="#7aaae4"/>
<rect x="530" y="234.3" width="13.8" height="21.6"/>
<rect x="540.4" y="244.6" width="1.5" height="1.3" fill="#fff"/><rect x="534.8" y="248" width="7" height="3" fill="#fff"/><rect x="535.4" y="249.2" width="5.8" height="0.5" fill="#4b8fd9"/>
<!-- mail -->
<rect x="562.5" y="214.6" width="33.2" height="21" rx="2"/>
<path d="M563,215.4 L579.2,228 L595.2,215.4 M563,235 L574.6,224.6 M595.2,235 L583.8,224.6" fill="none" stroke="#d6e6f8" stroke-width="0.6"/>
<rect x="579.2" y="241.8" width="23.6" height="0.8" fill="#7aaae4"/>
<rect x="602.6" y="228.1" width="18" height="27.8"/>
<rect x="616.4" y="242.8" width="1.7" height="1.5" fill="#fff"/><rect x="608.8" y="245.9" width="10" height="1.3" fill="#fff"/><rect x="608.8" y="248.2" width="10" height="1.3" fill="#fff"/><rect x="608.8" y="250.5" width="10" height="1.3" fill="#fff"/>
</g>
<text class="lb" x="227.2" y="272">应用服务器</text>
<text class="lb" x="299.6" y="271.6">存储服务器</text>
<text class="lb" x="382.1" y="272">WEB服务器</text>
<text class="lb" x="452" y="272">流媒体服务器</text>
<text class="lb" x="523.7" y="272">通信服务器</text>
<text class="lb" x="591.5" y="272">邮件服务器</text>

<!-- SECTION:row3 -->
<g id="r3">
<!-- storage -->
<rect x="198.75" y="300.4" width="38.85" height="43.7" fill="#828282"/>
<rect x="200.3" y="302" width="17.3" height="27.6" fill="#ececec"/>
<rect x="200.3" y="304.76" width="17.3" height="0.7" fill="#9a9a9a"/>
<rect x="200.3" y="307.52" width="17.3" height="0.7" fill="#9a9a9a"/>
<rect x="200.3" y="310.28" width="17.3" height="0.7" fill="#9a9a9a"/>
<rect x="200.3" y="313.04" width="17.3" height="0.7" fill="#9a9a9a"/>
<rect x="200.3" y="315.80" width="17.3" height="0.7" fill="#9a9a9a"/>
<rect x="200.3" y="318.56" width="17.3" height="0.7" fill="#9a9a9a"/>
<rect x="200.3" y="321.32" width="17.3" height="0.7" fill="#9a9a9a"/>
<rect x="200.3" y="324.08" width="17.3" height="0.7" fill="#9a9a9a"/>
<rect x="200.3" y="326.84" width="17.3" height="0.7" fill="#9a9a9a"/>
<rect x="207.9" y="333.6" width="2" height="2" fill="#fff"/>
<rect x="202.7" y="338" width="12.5" height="3" fill="#b4b4b4"/>
<rect x="219.6" y="302" width="16.6" height="27.6" fill="#ececec"/>
<rect x="219.6" y="304.76" width="16.6" height="0.7" fill="#9a9a9a"/>
<rect x="219.6" y="307.52" width="16.6" height="0.7" fill="#9a9a9a"/>
<rect x="219.6" y="310.28" width="16.6" height="0.7" fill="#9a9a9a"/>
<rect x="219.6" y="313.04" width="16.6" height="0.7" fill="#9a9a9a"/>
<rect x="219.6" y="315.80" width="16.6" height="0.7" fill="#9a9a9a"/>
<rect x="219.6" y="318.56" width="16.6" height="0.7" fill="#9a9a9a"/>
<rect x="219.6" y="321.32" width="16.6" height="0.7" fill="#9a9a9a"/>
<rect x="219.6" y="324.08" width="16.6" height="0.7" fill="#9a9a9a"/>
<rect x="219.6" y="326.84" width="16.6" height="0.7" fill="#9a9a9a"/>
<rect x="226.9" y="333.6" width="2" height="2" fill="#fff"/>
<rect x="222.0" y="338" width="11.8" height="3" fill="#b4b4b4"/>
<!-- server -->
<rect x="274.5" y="299.5" width="18" height="42.8" fill="#7c7c7c"/>
<rect x="277.5" y="303.2" width="12.5" height="4.2" fill="#f4f4f4"/>
<polygon points="277.5,307.4 290,305.4 290,307.4" fill="#bdbdbd"/>
<rect x="277.5" y="309.8" width="12.5" height="4.2" fill="#f4f4f4"/>
<polygon points="277.5,314.0 290,312.0 290,314.0" fill="#bdbdbd"/>
<rect x="277.5" y="316.3" width="12.5" height="4.2" fill="#f4f4f4"/>
<polygon points="277.5,320.5 290,318.5 290,320.5" fill="#bdbdbd"/>
<rect x="277.5" y="322.4" width="12.5" height="4.2" fill="#f4f4f4"/>
<polygon points="277.5,326.59999999999997 290,324.59999999999997 290,326.59999999999997" fill="#bdbdbd"/>
<rect x="278" y="331.4" width="11.6" height="2.8" fill="#b8b8b8"/>
<rect x="282.6" y="336.6" width="2" height="2" fill="#fff"/>
<!-- wired -->
<rect x="331.9" y="298.6" width="34.7" height="45" fill="#828282"/>
<rect x="333.2" y="300.4" width="25" height="5.2" fill="#cfcfcf"/>
<path d="M333.6,301.9 H358 M333.6,304.09999999999997 H358" stroke="#8a8a8a" stroke-width="1.1" stroke-dasharray="1.3,1" fill="none"/>
<rect x="360.6" y="301.0" width="4.4" height="1.2" fill="#c8c8c8"/><rect x="360.6" y="303.4" width="3" height="1.1" fill="#c8c8c8"/>
<rect x="333.2" y="307.9" width="25" height="5.2" fill="#cfcfcf"/>
<path d="M333.6,309.4 H358 M333.6,311.59999999999997 H358" stroke="#8a8a8a" stroke-width="1.1" stroke-dasharray="1.3,1" fill="none"/>
<rect x="360.6" y="308.5" width="4.4" height="1.2" fill="#c8c8c8"/><rect x="360.6" y="310.9" width="3" height="1.1" fill="#c8c8c8"/>
<rect x="333.2" y="314.9" width="25" height="5.2" fill="#cfcfcf"/>
<path d="M333.6,316.4 H358 M333.6,318.59999999999997 H358" stroke="#8a8a8a" stroke-width="1.1" stroke-dasharray="1.3,1" fill="none"/>
<rect x="360.6" y="315.5" width="4.4" height="1.2" fill="#c8c8c8"/><rect x="360.6" y="317.9" width="3" height="1.1" fill="#c8c8c8"/>
<rect x="333.2" y="322" width="25" height="5.2" fill="#cfcfcf"/>
<path d="M333.6,323.5 H358 M333.6,325.7 H358" stroke="#8a8a8a" stroke-width="1.1" stroke-dasharray="1.3,1" fill="none"/>
<rect x="360.6" y="322.6" width="4.4" height="1.2" fill="#c8c8c8"/><rect x="360.6" y="325" width="3" height="1.1" fill="#c8c8c8"/>
<rect x="333.2" y="329.1" width="25" height="5.2" fill="#cfcfcf"/>
<path d="M333.6,330.6 H358 M333.6,332.8 H358" stroke="#8a8a8a" stroke-width="1.1" stroke-dasharray="1.3,1" fill="none"/>
<rect x="360.6" y="329.70000000000005" width="4.4" height="1.2" fill="#c8c8c8"/><rect x="360.6" y="332.1" width="3" height="1.1" fill="#c8c8c8"/>
<rect x="333.2" y="336.6" width="25" height="5.2" fill="#cfcfcf"/>
<path d="M333.6,338.1 H358 M333.6,340.3 H358" stroke="#8a8a8a" stroke-width="1.1" stroke-dasharray="1.3,1" fill="none"/>
<rect x="360.6" y="337.20000000000005" width="4.4" height="1.2" fill="#c8c8c8"/><rect x="360.6" y="339.6" width="3" height="1.1" fill="#c8c8c8"/>
<rect x="331.9" y="306.4" width="34.7" height="0.8" fill="#6a6a6a"/>
<rect x="331.9" y="313.4" width="34.7" height="0.8" fill="#6a6a6a"/>
<rect x="331.9" y="320.5" width="34.7" height="0.8" fill="#6a6a6a"/>
<rect x="331.9" y="327.6" width="34.7" height="0.8" fill="#6a6a6a"/>
<rect x="331.9" y="335.1" width="34.7" height="0.8" fill="#6a6a6a"/>
<!-- wifi -->
<rect x="396.6" y="307.4" width="63.8" height="31.5" rx="15.75" fill="#7a7a7a"/>
<path d="M433.6,306.4 Q427.6,313 430.6,322 Q433.4,331 427.4,339.9" fill="none" stroke="#fafafa" stroke-width="2"/>
<text x="414.6" y="330" text-anchor="middle" style="font-family:'Liberation Sans',sans-serif;font-weight:700;font-size:17.5px;fill:#fff;">Wi</text>
<text x="443.4" y="330" text-anchor="middle" style="font-family:'Liberation Sans',sans-serif;font-weight:700;font-size:17.5px;fill:#fff;">Fi</text>
<!-- net security -->
<g fill="#7c7c7c"><rect x="492.5" y="301.4" width="25.7" height="7.5" rx="3.75"/><rect x="492.5" y="311.7" width="25.7" height="7.5" rx="3.75"/><rect x="492.5" y="322.4" width="25.7" height="7.5" rx="3.75"/></g>
<g fill="#fafafa"><circle cx="496.8" cy="305.15" r="1.3"/><circle cx="496.8" cy="315.45" r="1.3"/><circle cx="496.8" cy="326.15" r="1.3"/></g>
<g transform="translate(0.2,1.3)"><path d="M518.2,308 Q522,310.6 527.4,311.4 Q528,325 518.2,333.4 Q508.4,325 509,311.4 Q514.4,310.6 518.2,308 Z" fill="#fafafa"/>
<path d="M518.2,310.6 Q521.6,312.6 525.4,313.2 Q525.6,323.6 518.2,330.6 Q510.8,323.6 511,313.2 Q514.8,312.6 518.2,310.6 Z" fill="#7c7c7c"/>
<path d="M513,321.4 L522.4,313.6 M514.4,325 L524.6,316.6 M516.6,328 L524,321.8" stroke="#fafafa" stroke-width="1.1" fill="none"/></g>
<!-- iot gateway -->
<rect x="565" y="329.5" width="35" height="12.8" fill="#7c7c7c"/>
<rect x="580.8" y="309.8" width="3.8" height="20" fill="#7c7c7c"/>
<rect x="580" y="334.2" width="16" height="3.8" fill="#fafafa"/><circle cx="570.8" cy="336.1" r="1.7" fill="#fafafa"/>
<g fill="none" stroke="#7c7c7c" stroke-width="2.4"><path d="M577,311.6 Q573.4,317.6 577,324"/><path d="M572.2,306 Q564.6,317.6 572.2,329"/><path d="M588.4,311.6 Q592,317.6 588.4,324"/><path d="M593.2,306 Q600.8,317.6 593.2,329"/></g>
</g>
<text class="lk" x="220" y="357">存储</text>
<text class="lk" x="282.9" y="357">服务器</text>
<text class="lk" x="349.5" y="357">有线网络</text>
<text class="lk" x="424.5" y="357">无线网络</text>
<text class="lk" x="509.3" y="357">网络安全</text>
<text class="lk" x="580.8" y="357">物联网关</text>

<!-- SECTION:row4 -->
<defs>
<linearGradient id="gdome" x1="0" y1="0" x2="0" y2="1"><stop offset="0" stop-color="#f4f4f4"/><stop offset="1" stop-color="#d2d2d2"/></linearGradient>
<linearGradient id="gdark" x1="0" y1="0" x2="1" y2="0"><stop offset="0" stop-color="#14181c"/><stop offset="0.35" stop-color="#8a9096"/><stop offset="0.5" stop-color="#2a2e34"/><stop offset="0.8" stop-color="#6a7076"/><stop offset="1" stop-color="#1a1e22"/></linearGradient>
<radialGradient id="gspk" cx="0.4" cy="0.38" r="0.7"><stop offset="0" stop-color="#59636a"/><stop offset="1" stop-color="#2e363c"/></radialGradient>
</defs>
<g id="r4">
<!-- dome camera -->
<path d="M199,424 Q199.6,432.4 206,435.6 Q213.4,438.6 221,435.6 Q227.6,432.4 228.2,424 Z" fill="url(#gdark)"/>
<path d="M200,426 Q213,431 227.4,426 L227.8,424 L199.4,424 Z" fill="#101418"/>
<circle cx="213.4" cy="431.6" r="2.3" fill="#2a8ae4"/>
<path d="M195.4,409.4 L195.4,416.4 Q196,421 204,424.6 Q213.6,426.4 223.4,424.6 Q231.4,421 231.9,416.4 L231.9,409.4 Z" fill="url(#gdome)"/>
<ellipse cx="213.65" cy="409.6" rx="18.25" ry="5.8" fill="#f5f5f5"/>
<!-- card reader -->
<polygon points="248.8,406.6 262.9,410.75 262.9,437 248.8,430.4" fill="#c9cdcd"/>
<polygon points="262.9,410.75 269.4,408.5 269.4,434.2 262.9,437" fill="#a4a8a8"/>
<polygon points="248.8,406.6 255.4,404.2 269.4,408.5 262.9,410.75" fill="#e4e6e6"/>
<circle cx="261.2" cy="414.2" r="0.8" fill="#e04848"/><circle cx="261.2" cy="417.4" r="0.8" fill="#48b048"/>
<polygon points="250.8,423.6 255,421.6 257,425.4 252.6,427.4" fill="#f6f6f6"/>
<polygon points="254.4,429.4 258,427.6 261.4,433 258.4,434.6" fill="#d8c898"/>
<polygon points="252.6,427.4 256,425.8 257.6,428 254.4,429.4" fill="#b8bcbc"/>
<!-- alarm button -->
<polygon points="291.9,407.9 306,410.75 306,437 291.9,434.2" fill="#e9e9e9"/>
<polygon points="306,410.75 313.5,407.9 313.5,433.6 306,437" fill="#b4b6b6"/>
<polygon points="291.9,407.9 299.4,405.1 313.5,407.9 306,410.75" fill="#f4f4f4"/>
<polygon points="292.9,415 304.6,417.2 304.6,429.4 292.9,427.2" fill="#fdfdfd" stroke="#c4c4c4" stroke-width="0.4"/>
<circle cx="297.4" cy="421.8" r="1.9" fill="#e63c3c"/>
<path d="M300.4,419.6 Q302,422.2 300.4,425 M302,418.6 Q304,422.2 302,426" fill="none" stroke="#f08080" stroke-width="0.8"/>
<circle cx="296.6" cy="412.2" r="0.7" fill="#555"/><circle cx="296.6" cy="432.6" r="0.8" fill="#e04848"/>
<!-- smoke detector -->
<path d="M342,423 L343.6,431 Q345,434.4 355,436 Q365,434.4 366.8,431 L368.2,423 Z" fill="#f0f0f0"/>
<g fill="#1c1c1c"><polygon points="344.6,425.6 347.6,427 348.4,433 346,432"/><polygon points="352.6,428 356.6,428 356.6,435 352.6,435"/><polygon points="361.4,427 364.6,425.6 363.6,432 360.8,433"/></g>
<path d="M334.4,410.6 L334.4,415.6 Q335.4,420 344,423.4 Q354.8,425.4 365.6,423.4 Q374.2,420 375.1,415.6 L375.1,410.6 Z" fill="url(#gdome)"/>
<ellipse cx="354.75" cy="410.6" rx="20.35" ry="7.2" fill="#f3f3f3"/>
<!-- temperature panel -->
<polygon points="390.7,402.3 413.2,409.8 413.2,437 390.7,429.5" fill="#d3d6d6"/>
<polygon points="409.6,408.6 413.2,409.8 413.2,437 409.6,435.8" fill="#9a9e9e"/>
<polygon points="393.5,407.9 408.5,412.6 408.5,432.3 393.5,426.7" fill="#fbfbfb" stroke="#b0b0b0" stroke-width="0.4"/>
<path d="M398.8,414.6 L398.8,422.6" stroke="#c8641e" stroke-width="1.6" stroke-linecap="round"/><circle cx="398.8" cy="424.2" r="1.5" fill="#a8480e"/>
<!-- phone -->
<polygon points="433.8,425.4 455.4,405.5 470.4,416 470.4,418.4 448.8,436 433.8,427.8" fill="#8e9296"/>
<polygon points="433.8,425.4 455.4,405.5 470.4,416 448.8,433.6" fill="#b4b8bc"/>
<polygon points="451.25,414.1 457.25,409.6 466.6,416.2 460,421.6" fill="#3a9ae4"/>
<polygon points="452.4,414.2 457.2,410.8 461,413.4 456,417" fill="#6ab8f0"/>
<polygon points="443.2,422.9 451.25,417.3 458.2,422.3 449.75,429.5" fill="#8a8e92"/>
<path d="M444.6,423 L451.2,418.4 M446.6,424.6 L453.2,420 M448.6,426.2 L455.2,421.6 M447,420.8 L452.6,425.2 M449.6,419.2 L455,423.4" stroke="#b4b8bc" stroke-width="0.5" fill="none"/>
<path d="M434.4,425.6 Q433.6,421.6 437,418.6 L450.4,406.2 Q453.6,403.8 456.6,405.6 Q458,407 455.6,409 L442,421.4 Q441,425.4 438.6,427.4 Q435.6,428 434.4,425.6 Z" fill="#cfd3d7" stroke="#8a8e92" stroke-width="0.5"/>
<!-- walkie talkie -->
<rect x="500" y="404" width="1.6" height="9" fill="#2a2e32"/>
<polygon points="490.4,413.6 501.4,411.8 504,413 504,436 493.4,437.6 490.4,436" fill="#2c3034"/>
<polygon points="501.4,411.8 504,413 504,436 501.4,437" fill="#5c6064"/>
<rect x="492.2" y="421.8" width="8" height="3" fill="#2a7ad4"/>
<g fill="#e8e8e8"><rect x="492.2" y="431" width="2" height="3.4"/><rect x="495.2" y="431" width="2" height="3.4"/><rect x="498.2" y="431" width="2" height="3.4"/></g>
<rect x="492.2" y="415.6" width="8" height="3.6" fill="#44484c"/>
<!-- speaker -->
<circle cx="541.6" cy="420.2" r="16" fill="#8c9094"/>
<circle cx="540" cy="419.6" r="13.6" fill="url(#gspk)"/>
<circle cx="537" cy="415.6" r="4.6" fill="#6e787e"/>
<!-- display -->
<rect x="574" y="405" width="46" height="32" fill="#0b8ad2" stroke="#1a1a1a" stroke-width="1"/>
<path d="M574.5,405.5 H619.5 V410 Q590,416 574.5,430 Z" fill="#1ba0ea"/>
</g>
<text class="lb" x="264.8" y="455">信息采集</text>
<text class="lb" x="372.4" y="454.4">信息感知</text>
<text class="lb" x="476" y="456">语音交互</text>
<text class="lb" x="576.3" y="456">信息展示</text>

</svg>
</body>
</html>
